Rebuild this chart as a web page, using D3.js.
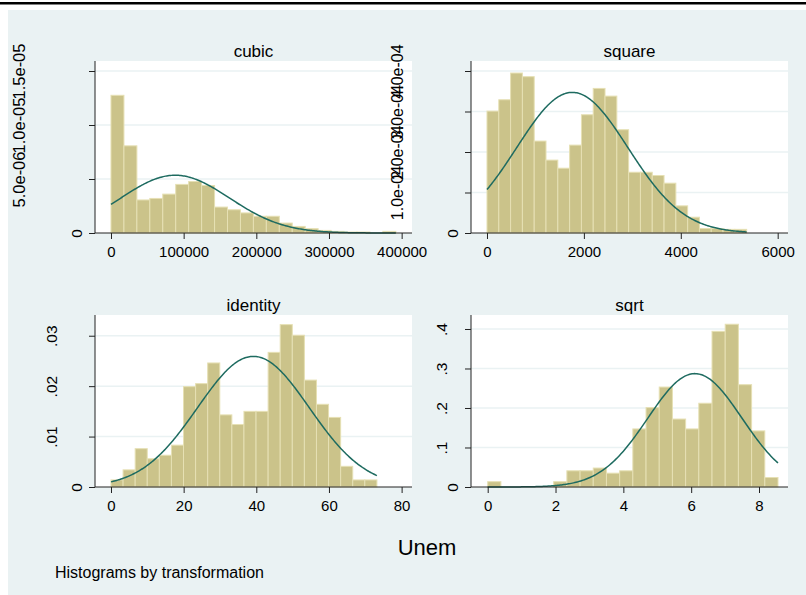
<!DOCTYPE html>
<html><head><meta charset="utf-8">
<script src="https://cdn.jsdelivr.net/npm/d3@7"></script>
<style>
body{margin:0;background:#fff}
svg{display:block}
text{font-family:"Liberation Sans",Arial,Helvetica,sans-serif;fill:#000}
</style>
</head><body>
<svg id="chart" width="806" height="595"></svg>
<script>
// ---------- data ----------
const panelNames = ["cubic", "square", "identity", "sqrt"];

const cubicDensity = [12.75e-6, 8.07e-6, 3.06e-6, 3.2e-6, 3.6e-6, 4.5e-6, 4.77e-6, 4.4e-6, 2.4e-6, 2.15e-6, 1.86e-6,
  1.55e-6, 1.55e-6, 0.92e-6, 0.61e-6, 0.40e-6, 0.24e-6, 0.15e-6, 0.09e-6, 0.09e-6, 0, 0.15e-6];
const squareDensity = [3.01e-4, 3.29e-4, 3.95e-4, 3.86e-4, 2.27e-4, 1.80e-4, 1.60e-4, 2.17e-4, 2.92e-4, 3.57e-4, 3.38e-4,
  2.55e-4, 1.50e-4, 1.50e-4, 1.42e-4, 1.23e-4, 0.67e-4, 0.39e-4, 0.11e-4, 0.11e-4, 0.09e-4, 0.09e-4];
const identityDensity = [.0014, .0034, .0076, .0056, .0063, .0083, .0199, .0205, .0246, .0143, .0124,
  .0150, .0150, .0267, .0322, .0301, .0212, .0164, .0138, .0041, .0014, .0014];
const sqrtDensity = [.0135, 0, 0, 0, 0, .0135, .041, .041, .048, .035, .041,
  .147, .201, .253, .172, .147, .212, .394, .412, .259, .142, .024];

// bin range [start, end] of each histogram
const cubicBins = [0, 392000];
const squareBins = [0, 5360];
const identityBins = [0, 73.2];
const sqrtBins = [0, 8.56];

// normal overlay [mean, sd]
const cubicNormal = [88300, 74600];
const squareNormal = [1761, 1149];
const identityNormal = [39.2, 15.4];
const sqrtNormal = [6.11, 1.39];

// ticks
const cubicXTicks = [0, 100000, 200000, 300000, 400000];
const cubicXLabels = ["0", "100000", "200000", "300000", "400000"];
const cubicYTicks = [0, 5e-6, 1e-5, 1.5e-5];
const cubicYLabels = ["0", "5.0e-06", "1.0e-05", "1.5e-05"];
const squareXTicks = [0, 2000, 4000, 6000];
const squareXLabels = ["0", "2000", "4000", "6000"];
const squareYTicks = [0, 1e-4, 2e-4, 3e-4, 4e-4];
const squareYLabels = ["0", "1.0e-04", "2.0e-04", "3.0e-04", "4.0e-04"];
const identityXTicks = [0, 20, 40, 60, 80];
const identityXLabels = ["0", "20", "40", "60", "80"];
const identityYTicks = [0, .01, .02, .03];
const identityYLabels = ["0", ".01", ".02", ".03"];
const sqrtXTicks = [0, 2, 4, 6, 8];
const sqrtXLabels = ["0", "2", "4", "6", "8"];
const sqrtYTicks = [0, .1, .2, .3, .4];
const sqrtYLabels = ["0", ".1", ".2", ".3", ".4"];

const xAxisTitle = "Unem";
const noteText = "Histograms by transformation";

// ---------- layout ----------
const W = 806, H = 595;
const PW = 317, PH = 172;
const layout = [
  {left: 95, top: 61, xDomain: [-22000, 414250], yMax: 1.5926e-5, yLabOff: 75.5, yFont: 16.5},
  {left: 471, top: 61, xDomain: [-330, 6213], yMax: 4.247e-4, yLabOff: 73.5, yFont: 16},
  {left: 95, top: 315, xDomain: [-4.403, 82.86], yMax: 0.03411, yLabOff: 43.5, yFont: 15.5},
  {left: 471, top: 315, xDomain: [-0.4924, 8.855], yMax: 0.4354, yLabOff: 29.5, yFont: 15.5}
];
const panels = [
  {dens: cubicDensity, bins: cubicBins, normal: cubicNormal, xT: cubicXTicks, xL: cubicXLabels, yT: cubicYTicks, yL: cubicYLabels},
  {dens: squareDensity, bins: squareBins, normal: squareNormal, xT: squareXTicks, xL: squareXLabels, yT: squareYTicks, yL: squareYLabels},
  {dens: identityDensity, bins: identityBins, normal: identityNormal, xT: identityXTicks, xL: identityXLabels, yT: identityYTicks, yL: identityYLabels},
  {dens: sqrtDensity, bins: sqrtBins, normal: sqrtNormal, xT: sqrtXTicks, xL: sqrtXLabels, yT: sqrtYTicks, yL: sqrtYLabels}
];

const BG = "#eaf2f3", BAR = "#cbc38a", BAR_STROKE = "#e6e0b4", LINE = "#1e6b60", AXIS = "#222";

const svg = d3.select("#chart");
svg.append("rect").attr("width", W).attr("height", H).attr("fill", "#fff");
svg.append("rect").attr("x", 0).attr("y", 2).attr("width", W).attr("height", 2.5).attr("fill", "#000");
svg.append("rect").attr("x", 8).attr("y", 10).attr("width", W - 8).attr("height", H - 10).attr("fill", BG);

panels.forEach((p, k) => {
  const L = layout[k];
  const g = svg.append("g");
  const x = d3.scaleLinear().domain(L.xDomain).range([L.left, L.left + PW]);
  const y = d3.scaleLinear().domain([0, L.yMax]).range([L.top + PH, L.top]);

  g.append("rect").attr("x", L.left).attr("y", L.top).attr("width", PW).attr("height", PH).attr("fill", "#fff");

  // grid
  g.selectAll(".grid").data(p.yT.filter(t => t !== 0)).enter().append("line")
    .attr("x1", L.left).attr("x2", L.left + PW)
    .attr("y1", d => y(d)).attr("y2", d => y(d))
    .attr("stroke", BG).attr("stroke-width", 1.5);

  // bars
  const n = p.dens.length;
  const bw = (p.bins[1] - p.bins[0]) / n;
  g.selectAll(".bar").data(p.dens.map((d, i) => ({d, i})).filter(o => o.d > 0)).enter().append("rect")
    .attr("x", o => x(p.bins[0] + o.i * bw))
    .attr("width", o => x(p.bins[0] + (o.i + 1) * bw) - x(p.bins[0] + o.i * bw))
    .attr("y", o => y(o.d))
    .attr("height", o => y(0) - y(o.d))
    .attr("fill", BAR).attr("stroke", BAR_STROKE).attr("stroke-width", 1);

  // normal curve
  const [m, s] = p.normal;
  const pts = d3.range(0, 241).map(i => {
    const v = p.bins[0] + (p.bins[1] - p.bins[0]) * i / 240;
    return [v, Math.exp(-0.5 * ((v - m) / s) ** 2) / (s * Math.sqrt(2 * Math.PI))];
  });
  g.append("path").datum(pts)
    .attr("d", d3.line().x(d => x(d[0])).y(d => y(d[1])))
    .attr("fill", "none").attr("stroke", LINE).attr("stroke-width", 1.5);

  // x axis
  const xa = g.append("g").attr("transform", `translate(0,${L.top + PH})`)
    .call(d3.axisBottom(x).tickValues(p.xT).tickFormat((d, i) => p.xL[i]).tickSize(6).tickPadding(7));
  xa.select(".domain").remove();
  xa.selectAll("line").attr("stroke", AXIS);
  xa.selectAll("text").attr("font-size", 15).attr("fill", "#000")
    .style("font-family", '"Liberation Sans",Arial,sans-serif');
  g.append("line").attr("x1", L.left).attr("x2", L.left + PW)
    .attr("y1", L.top + PH).attr("y2", L.top + PH).attr("stroke", AXIS).attr("stroke-width", 1);

  // y axis
  const ya = g.append("g").attr("transform", `translate(${L.left},0)`)
    .call(d3.axisLeft(y).tickValues(p.yT).tickFormat((d, i) => p.yL[i]).tickSize(6));
  ya.select(".domain").remove();
  ya.selectAll("line").attr("stroke", AXIS);
  ya.selectAll("text")
    .attr("x", null).attr("dy", null)
    .attr("text-anchor", "middle")
    .attr("font-size", d => d === 0 ? 15.5 : L.yFont).attr("fill", "#000")
    .style("font-family", '"Liberation Sans",Arial,sans-serif')
    .attr("transform", d => `translate(${-(d === 0 ? 18.5 : L.yLabOff) + 5.6},0) rotate(-90)`);
  g.append("line").attr("x1", L.left).attr("x2", L.left)
    .attr("y1", L.top).attr("y2", L.top + PH).attr("stroke", AXIS).attr("stroke-width", 1);

  // title
  g.append("text").attr("x", L.left + PW / 2).attr("y", L.top - 4.5)
    .attr("text-anchor", "middle").attr("font-size", 17).text(panelNames[k]);
});

svg.append("text").attr("x", 427).attr("y", 555).attr("text-anchor", "middle")
  .attr("font-size", 22).text(xAxisTitle);
svg.append("text").attr("x", 55).attr("y", 578).attr("font-size", 16).text(noteText);
</script>
</body></html>
